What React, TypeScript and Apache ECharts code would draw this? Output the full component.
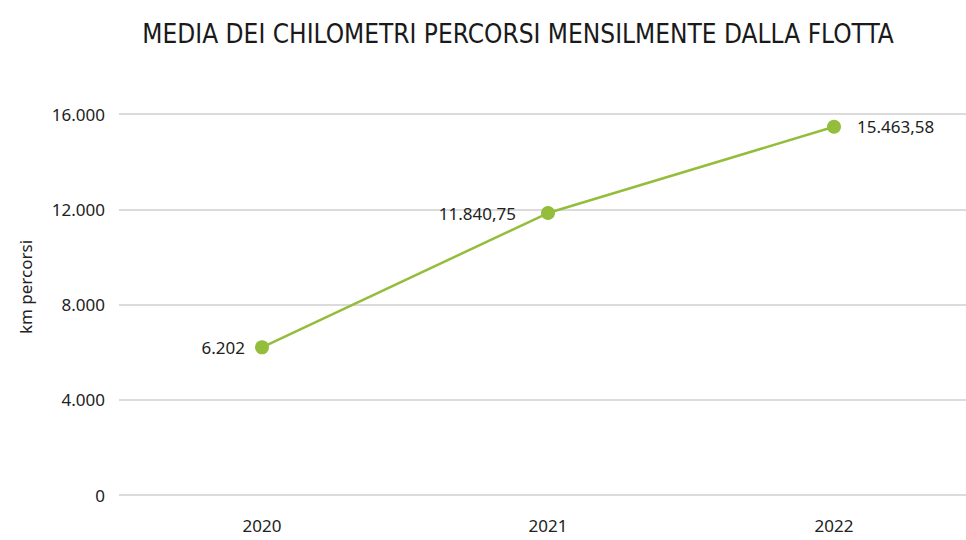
import React, { useEffect, useRef } from "react";
import * as echarts from "echarts";

const title = "MEDIA DEI CHILOMETRI PERCORSI MENSILMENTE DALLA FLOTTA";
const categories = ["2020", "2021", "2022"];
const values = [6202, 11840.75, 15463.58];
const valueLabels = ["6.202", "11.840,75", "15.463,58"];
const labelSides = ["left", "left", "right"];
const labelDistances = [10, 25, 16];
const yAxisName = "km percorsi";

const fmt = (v: number) => {
  const s = Math.round(v).toString();
  return s.replace(/\B(?=(\d{3})+(?!\d))/g, ".");
};

export default function App() {
  const ref = useRef<HTMLDivElement>(null);
  useEffect(() => {
    if (!ref.current) return;
    const chart = echarts.init(ref.current, null, { renderer: "svg" });
    const green = "#93bd3b";
    chart.setOption({
      animation: false,
      backgroundColor: "#ffffff",
      title: {
        text: title,
        left: 513,
        top: 16,
        textAlign: "center",
        textStyle: {
          fontFamily: "DejaVu Sans Condensed",
          fontWeight: "normal",
          fontSize: 26,
          color: "#1a1a1a",
        },
      },
      grid: {
        left: 119,
        width: 858,
        top: 114,
        height: 381,
        containLabel: false,
        outerBoundsMode: "none",
      },
      graphic: [
        {
          type: "text",
          x: 25,
          y: 287,
          rotation: Math.PI / 2,
          style: {
            text: yAxisName,
            fontFamily: "Noto Sans",
            fontSize: 17,
            fill: "#222",
            align: "center",
            verticalAlign: "middle",
          },
        },
      ],
      xAxis: {
        type: "category",
        data: categories,
        boundaryGap: true,
        axisLine: { show: false },
        axisTick: { show: false },
        axisLabel: {
          margin: 22,
          fontFamily: "Noto Sans",
          fontSize: 17,
          color: "#222",
        },
      },
      yAxis: {
        type: "value",
        min: 0,
        max: 16000,
        interval: 4000,
        axisLine: { show: false },
        axisTick: { show: false },
        axisLabel: {
          margin: 14,
          fontFamily: "Noto Sans",
          fontSize: 17,
          color: "#222",
          formatter: (v: number) => fmt(v),
        },
        splitLine: { lineStyle: { color: "#cfcfcf", width: 1.5 } },
      },
      series: [
        {
          type: "line",
          data: values.map((v, i) => ({
            value: v,
            label: {
              show: true,
              position: labelSides[i],
              distance: labelDistances[i],
              formatter: valueLabels[i],
            },
          })),
          symbol: "circle",
          symbolSize: 14,
          lineStyle: { color: green, width: 2.5 },
          itemStyle: { color: green },
          label: {
            show: true,
            fontFamily: "Noto Sans",
            fontSize: 17,
            color: "#222",
          },
        },
      ],
    });
    return () => chart.dispose();
  }, []);
  return (
    <div
      ref={ref}
      style={{ position: "absolute", left: 0, top: 0, width: 966, height: 540 }}
    />
  );
}
